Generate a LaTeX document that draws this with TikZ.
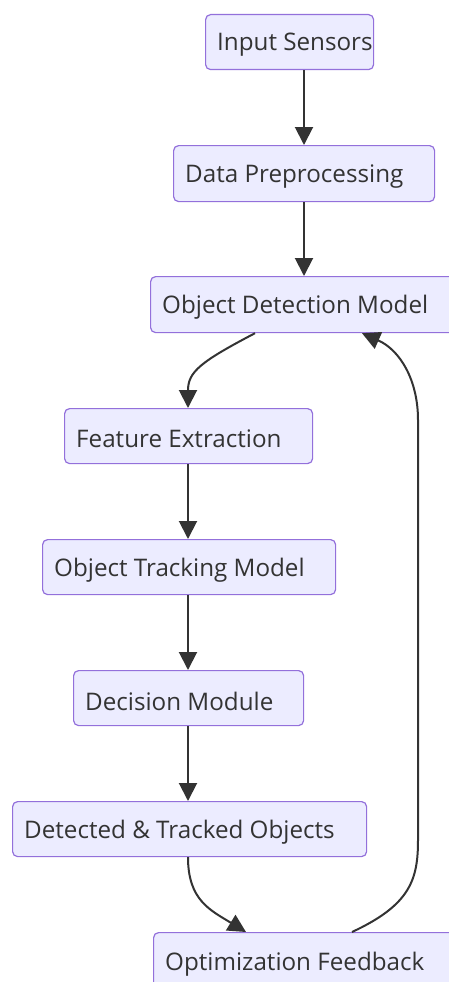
\documentclass[tikz,border=0pt]{standalone}
\usepackage{fontspec}
\setmainfont{Open Sans}
\usetikzlibrary{arrows.meta,calc}
\definecolor{boxfill}{HTML}{ECECFF}
\definecolor{boxline}{HTML}{9370DB}
\definecolor{arr}{HTML}{333333}
\tikzset{
  box/.style={draw=boxline, fill=boxfill, line width=1.2pt, rounded corners=5pt,
    anchor=north west, inner sep=0pt},
  lbl/.style={anchor=west, inner sep=0pt, font=\fontsize{24.2}{28}\selectfont, text=arr},
  flow/.style={draw=arr, line width=2pt, -{Triangle[length=18pt,width=18pt]}}
}
\newcommand{\mybox}[6]{% name, x1, y1, x2, y2, text
  \node[box, minimum width=#4-#2, minimum height=#5-#3] (#1) at (#2,#3) {};
  \node[lbl] (#1-t) at ($(#1.west)+(12,3)$) {#6};}
\begin{document}
\begin{tikzpicture}[x=1pt,y=-1pt]
\useasboundingbox (0,0) rectangle (448,982);
\mybox{ins}{205}{14}{373}{69}{Input Sensors}
\mybox{pre}{173}{145}{434}{201}{Data Preprocessing}
\mybox{odm}{150}{276}{470}{332}{Object Detection Model}
\mybox{fe}{64}{408}{312}{463}{Feature Extraction}
\mybox{otm}{42}{539}{335}{594}{Object Tracking Model}
\mybox{dm}{73}{670}{303}{725}{Decision Module}
\mybox{dto}{12}{801}{366}{856}{Detected \& Tracked Objects}
\mybox{of}{153}{932}{470}{990}{Optimization Feedback}
\draw[flow] ($(ins.south west)+(99,0)$) -- ($(pre.north west)+(131,0)$);
\draw[flow] ($(pre.south west)+(131,0)$) -- ($(odm.north west)+(154,0)$);
\draw[flow] ($(odm.south west)+(105,0)$) .. controls (200,362) and (188,372) .. ($(fe.north west)+(124,0)$);
\draw[flow] ($(fe.south west)+(124,0)$) -- ($(otm.north west)+(146,0)$);
\draw[flow] ($(otm.south west)+(146,0)$) -- ($(dm.north west)+(115,0)$);
\draw[flow] ($(dm.south west)+(115,0)$) -- ($(dto.north west)+(176,0)$);
\draw[flow] ($(dto.south west)+(176,0)$) .. controls (188,900) and (210,910) .. ($(of.north west)+(93,0)$);
\draw[flow] ($(of.north west)+(199,0)$) .. controls (410,905) and (418,880) .. (418,840)
  -- (418,420) .. controls (418,380) and (400,350) .. ($(odm.south west)+(212,0)$);
\end{tikzpicture}
\end{document}
